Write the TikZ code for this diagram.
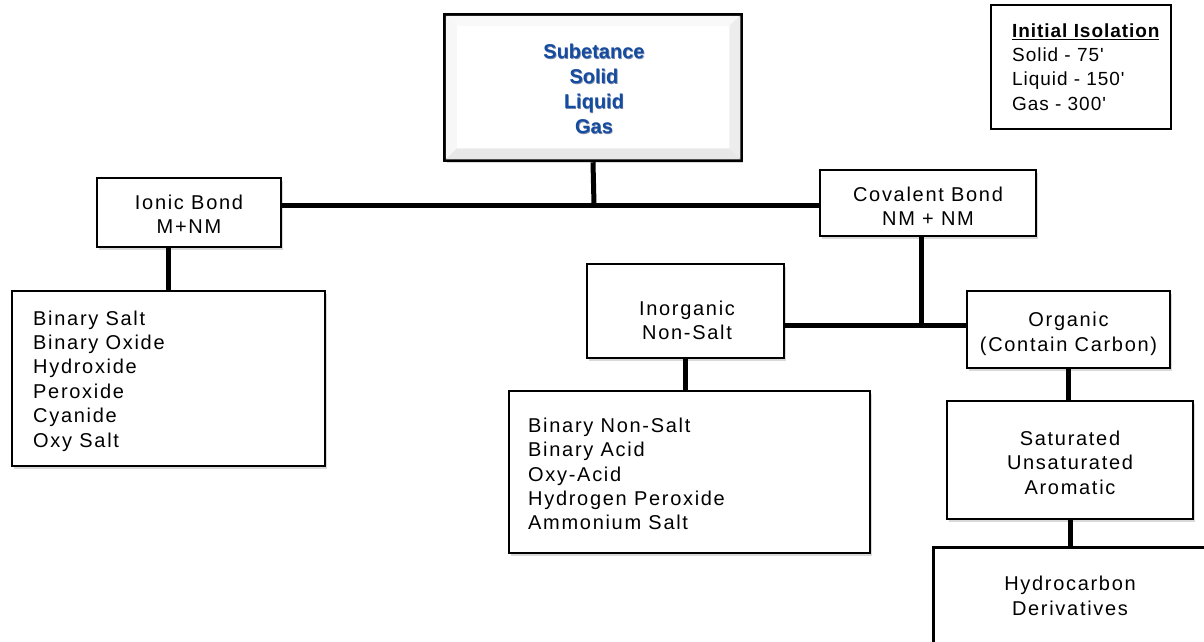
\documentclass[tikz,border=0pt]{standalone}
\usepackage{fontspec}
\setmainfont{Liberation Sans}
\newfontfamily\bodyfont{Liberation Sans}[LetterSpace=8.5]
\newfontfamily\legfont{Liberation Sans}[LetterSpace=5]
\usetikzlibrary{shadows,calc}
\definecolor{subblue}{RGB}{22,76,160}
\definecolor{subdark}{RGB}{10,40,100}
\tikzset{
  box/.style={draw=black, line width=2.5pt, fill=white, inner sep=0pt,
    drop shadow={shadow xshift=2pt, shadow yshift=-3pt, opacity=0.3, fill=gray}},
  conn/.style={draw=black, line width=5pt},
  txt/.style={inner sep=0pt, font=\bodyfont\fontsize{20}{24.4}\selectfont, align=center},
  listtxt/.style={txt, align=left, anchor=west},
}
\begin{document}
\begin{tikzpicture}[x=1pt,y=-1pt]
\useasboundingbox (0,0) rectangle (1204,641);
\clip (0,0) rectangle (1204,641);
% top box
\node[draw=black, line width=4.5pt, fill=white, minimum width=296pt, minimum height=145pt, inner sep=0pt,
  drop shadow={shadow xshift=2pt, shadow yshift=-3pt, opacity=0.3, fill=gray}] (top) at (593,87.5) {};
\fill[gray!5] ($(top.north west)+(3,3)$) -- ($(top.north east)+(-3,3)$) -- ($(top.north east)+(-14,13)$) -- ($(top.north west)+(14,13)$) -- cycle;
\fill[gray!6] ($(top.north west)+(3,3)$) -- ($(top.south west)+(3,-3)$) -- ($(top.south west)+(14,-14)$) -- ($(top.north west)+(14,13)$) -- cycle;
\fill[gray!14] ($(top.north east)+(-3,3)$) -- ($(top.south east)+(-3,-3)$) -- ($(top.south east)+(-14,-14)$) -- ($(top.north east)+(-14,13)$) -- cycle;
\fill[gray!18] ($(top.south west)+(3,-3)$) -- ($(top.south east)+(-3,-3)$) -- ($(top.south east)+(-14,-14)$) -- ($(top.south west)+(14,-14)$) -- cycle;
\node[inner sep=0pt, align=center, text=subdark, opacity=0.55, font=\bfseries\fontsize{20}{25}\selectfont] (topshadow) at (594.7,89.7) {Subetance\\Solid\\Liquid\\Gas};
\node[inner sep=0pt, align=center, text=subblue, font=\bfseries\fontsize{20}{25}\selectfont] (toptext) at (594,89) {Subetance\\Solid\\Liquid\\Gas};
% legend
\node[draw=black, line width=2pt, fill=white, minimum width=180pt, minimum height=124pt, inner sep=0pt] (legend) at (1081,67) {};
\node[inner sep=0pt, align=left, anchor=west, font=\legfont\fontsize{19}{24.4}\selectfont] (legtext) at (1012,67)
  {\textbf{\underline{Initial Isolation}}\\Solid - 75'\\Liquid - 150'\\Gas - 300'};
% boxes
\node[box, minimum width=184pt, minimum height=69pt] (ionic) at (189,212.5) {};
\node[txt] (ionictext) at (189,214.5) {Ionic Bond\\M+NM};
\node[box, minimum width=216pt, minimum height=66pt] (covalent) at (928,203) {};
\node[txt] (covtext) at (928,206) {Covalent Bond\\NM + NM};
\node[box, minimum width=313pt, minimum height=175pt] (ionlist) at (168.5,378.5) {};
\node[listtxt] (ionlisttext) at (33,381) {Binary Salt\\Binary Oxide\\Hydroxide\\Peroxide\\Cyanide\\Oxy Salt};
\node[box, minimum width=197pt, minimum height=94pt] (inorg) at (685.5,311) {};
\node[txt] (inorgtext) at (687,320.5) {Inorganic\\Non-Salt};
\node[box, minimum width=203pt, minimum height=77pt] (org) at (1068.5,329.5) {};
\node[txt] (orgtext) at (1068.5,334) {Organic\\(Contain Carbon)};
\node[box, minimum width=361pt, minimum height=162pt] (inlist) at (689.5,472) {};
\node[listtxt] (inlisttext) at (528,474) {Binary Non-Salt\\Binary Acid\\Oxy-Acid\\Hydrogen Peroxide\\Ammonium Salt};
\node[box, minimum width=246pt, minimum height=118pt] (sat) at (1070,460) {};
\node[txt] (sattext) at (1070,462.5) {Saturated\\Unsaturated\\Aromatic};
\node[box, minimum width=276pt, minimum height=102pt, anchor=north west] (hydro) at (932,546) {};
\node[txt] (hydrotext) at (1070,596) {Hydrocarbon\\Derivatives};
% connectors
\coordinate (j1) at (594,205);
\coordinate (j2) at (921,325);
\draw[conn] (top.south) -- (j1);
\draw[conn] (ionic.east |- j1) -- (covalent.west |- j1);
\draw[conn] (ionlist.north) -- (ionlist.north |- ionic.south);
\draw[conn] (covalent.south -| j2) -- (j2);
\draw[conn] (inorg.east |- j2) -- (org.west |- j2);
\draw[conn] (inlist.north -| inorg.south) -- (inorg.south);
\draw[conn] (org.south) -- (org.south |- sat.north);
\draw[conn] (sat.south) -- (sat.south |- hydro.north);
\end{tikzpicture}
\end{document}
